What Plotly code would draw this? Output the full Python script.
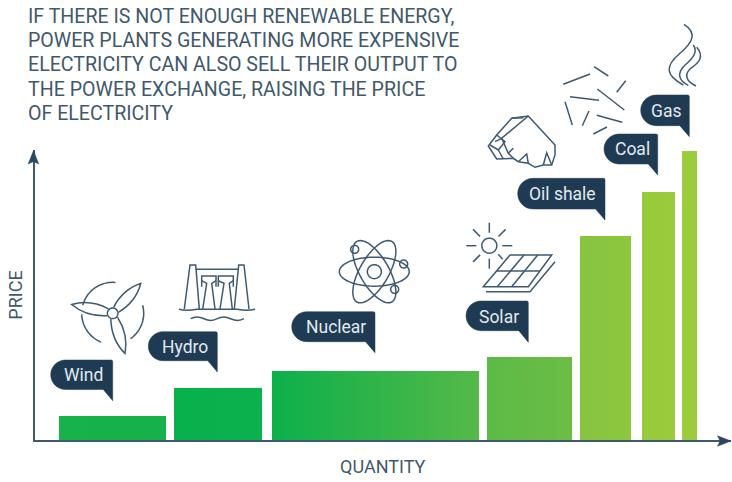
import numpy as np
import plotly.graph_objects as go

sources = ["Wind", "Hydro", "Nuclear", "Solar", "Oil shale", "Coal", "Gas"]
quantity_start = [26, 141, 239, 454, 547, 609, 649]
quantity_width = [106, 87, 206, 84, 50, 32, 14]
price = [25, 53, 70, 84, 205, 249, 290]
color_left = ["#18b14b", "#09b14c", "#0cb04b", "#5cba47", "#86c440", "#96ca3c", "#9ccb3b"]
color_right = ["#16b14b", "#0ab14c", "#54b948", "#6cbd45", "#8ec73e", "#9acb3b", "#9ccb3b"]
callouts = [  # left, right, top, bottom, tip
    (50.7, 112.7, 360, 389.5, 400.7), (148.3, 217.3, 331.7, 360.7, 372),
    (291.7, 375, 311.7, 341.7, 352.7), (466, 528.3, 301, 330.7, 342.3),
    (517.7, 605, 178.3, 209, 220), (604, 657.7, 134, 164, 175), (640.7, 689.3, 95, 125.7, 136.7),
]
callout_text_xy = [(83, 375), (185, 346.5), (336, 326.7), (499.3, 316.5), (562.7, 194), (632.3, 149.3), (666, 110.7)]
INK = "#41596c"
NAVY = "#1f3b54"
ICON = "#3f5a70"
FONT = "Roboto"
headline_lines = ["IF THERE IS NOT ENOUGH RENEWABLE ENERGY,", "POWER PLANTS GENERATING MORE EXPENSIVE",
                  "ELECTRICITY CAN ALSO SELL THEIR OUTPUT TO", "THE POWER EXCHANGE, RAISING THE PRICE",
                  "OF ELECTRICITY"]
headline_y = [16, 40.3, 64.6, 89, 113.3]

W, H = 732, 482
fig = go.Figure()
centers = [s + w / 2 for s, w in zip(quantity_start, quantity_width)]
fig.add_trace(go.Bar(x=centers, y=price, width=quantity_width, hovertext=sources,
                     marker=dict(color=color_right, line=dict(width=0)), showlegend=False))
for s, w, p, c0, c1 in zip(quantity_start, quantity_width, price, color_left, color_right):
    fig.add_trace(go.Scatter(x=[s, s, s + w, s + w, s], y=[0, p, p, 0, 0], mode="lines", fill="toself",
                             line=dict(width=0), hoverinfo="skip", showlegend=False,
                             fillgradient=dict(type="horizontal", colorscale=[[0, c0], [1, c1]])))

shapes = []
def stroke(path, width=1.5, color=ICON, fill=None):
    shapes.append(dict(type="path", path=path, xref="x2", yref="y2", layer="above",
                       line=dict(color=color, width=width), fillcolor=fill or "rgba(0,0,0,0)"))
def zoomed(pts, ox, oy):
    return [(ox + a / 3, oy + b / 3) for a, b in pts]
def poly(pts, close=False):
    return "M" + " L".join(f"{a:.1f},{b:.1f}" for a, b in pts) + (" Z" if close else "")
def ellipse(cx, cy, rx, ry, rot=0, a0=0, a1=360, close=True):
    t = np.radians(np.linspace(a0, a1, 49))
    r = np.radians(rot)
    x = rx * np.cos(t); y = ry * np.sin(t)
    return poly(list(zip(cx + x * np.cos(r) - y * np.sin(r), cy + x * np.sin(r) + y * np.cos(r))), close)
def curve(cmds, ox, oy):
    out = []
    for c, pts in cmds:
        out.append(c + " ".join(f"{ox + a / 3:.1f},{oy + b / 3:.1f}" for a, b in pts))
    return " ".join(out)

# speech bubbles
for l, r, t, b, tip in callouts:
    rad = (b - t) / 2
    k = rad * 0.55
    m = l + rad
    stroke(f"M{m},{t} L{r-1.5},{t} Q{r},{t} {r},{t+1.5} L{r},{tip} L{r-9.5},{b} L{m},{b} "
           f"C{m-k},{b} {l},{b-rad+k} {l},{b-rad} C{l},{t+rad-k} {m-k},{t} {m},{t} Z",
           width=0.5, color=NAVY, fill=NAVY)

# axis arrowheads
stroke("M33.5,150.5 L38.7,164 L33.5,161.5 L28.2,164 Z", width=0.5, fill="#2b4860", color="#2b4860")
stroke("M731,441 L717.5,435.8 L720,441 L717.5,446.2 Z", width=0.5, fill="#2b4860", color="#2b4860")

# wind turbine
hub = (112.7, 313.3)
stroke(ellipse(*hub, 5.3, 5.3))
for tip in [(140.7, 283.5), (71.7, 304.5), (125, 353.5)]:
    dx, dy = tip[0] - hub[0], tip[1] - hub[1]
    n = np.hypot(dx, dy); ux, uy = dx / n, dy / n; px, py = -uy, ux
    b1 = (hub[0] + ux * 5 + px * 3.5, hub[1] + uy * 5 + py * 3.5)
    b2 = (hub[0] + ux * 5 - px * 3.5, hub[1] + uy * 5 - py * 3.5)
    mid = n * 0.6
    c1 = (hub[0] + ux * mid + px * 9, hub[1] + uy * mid + py * 9)
    c2 = (hub[0] + ux * mid - px * 9, hub[1] + uy * mid - py * 9)
    stroke(f"M{b1[0]:.1f},{b1[1]:.1f} Q{c1[0]:.1f},{c1[1]:.1f} {tip[0]},{tip[1]} Q{c2[0]:.1f},{c2[1]:.1f} {b2[0]:.1f},{b2[1]:.1f}")
stroke(ellipse(*hub, 31, 31, 0, 195, 275, False))
stroke(ellipse(*hub, 31, 31, 0, -15, 55, False))
stroke(ellipse(*hub, 31, 31, 0, 112, 178, False))

# dam
for line in [
    [(553, 207), (570, 75), (587, 75), (598, 207)], [(747, 207), (732, 75), (716, 75), (703, 207)],
    [(587, 88), (716, 88)], [(605, 140), (605, 108), (648, 108), (648, 140)],
    [(655, 140), (655, 108), (700, 108), (700, 140)], [(605, 122), (620, 130), (608, 207)],
    [(648, 122), (635, 130), (645, 207)], [(655, 122), (672, 130), (660, 207)],
    [(700, 122), (688, 130), (697, 207)],
]:
    stroke(poly(zoomed(line, 0, 240)))
stroke(curve([("M", [(537, 208)]), ("Q", [(560, 214), (590, 208)]), ("L", [(712, 208)]), ("Q", [(740, 214), (765, 208)])], 0, 240))
stroke(curve([("M", [(572, 236)]), ("Q", [(590, 226), (612, 236)]), ("T", [(652, 236)]), ("T", [(692, 236)]), ("T", [(732, 236)])], 0, 240))

# atom
c = (280 + 283 / 3, 210 + 185 / 3)
stroke(ellipse(*c, 7, 7)); stroke(ellipse(*c, 35, 14.5))
stroke(ellipse(*c, 35, 14.5, 60)); stroke(ellipse(*c, 35, 14.5, -60))
for a, b in [(224, 118), (371, 162), (344, 238)]:
    stroke(ellipse(280 + a / 3, 210 + b / 3, 4, 4))

# solar panel
sun = (280 + 628 / 3, 210 + 107 / 3)
stroke(ellipse(*sun, 7.5, 7.5))
for deg in [0, 45, 90, 135, 180, 225, 270]:
    v = np.radians(deg)
    stroke(poly([(sun[0] + 13 * np.cos(v), sun[1] - 13 * np.sin(v)), (sun[0] + 23 * np.cos(v), sun[1] - 23 * np.sin(v))]))
stroke(poly(zoomed([(655, 133), (668, 148)], 280, 210)))
stroke(poly(zoomed([(690, 135), (815, 135), (745, 230), (610, 230)], 280, 210), True))
for line in [[(650, 183), (780, 183)], [(732, 135), (652, 230)], [(773, 135), (695, 230)]]:
    stroke(poly(zoomed(line, 280, 210)))
stroke(poly(zoomed([(618, 245), (750, 245), (825, 155)], 280, 210)))

# oil shale rock
stroke(poly(zoomed([(145, 318), (225, 405), (225, 435), (215, 465), (190, 465), (165, 472), (145, 460), (115, 455),
                    (100, 445), (50, 447), (25, 408), (50, 375), (95, 325)], 480, 10), True))
for line in [[(145, 318), (65, 385), (85, 430), (100, 445)], [(50, 375), (75, 395), (55, 420), (30, 405)],
             [(55, 420), (70, 447)], [(115, 455), (140, 432), (145, 460)], [(190, 465), (200, 428), (215, 465)],
             [(65, 385), (45, 395)], [(95, 325), (130, 323)], [(85, 430), (100, 415)]]:
    stroke(poly(zoomed(line, 480, 10)))

# coal sticks
for line in [[(250, 223), (330, 192)], [(342, 170), (385, 198)], [(410, 247), (437, 212)], [(352, 237), (433, 300)],
             [(270, 260), (357, 271)], [(255, 275), (277, 345)], [(327, 303), (307, 347)], [(350, 316), (427, 337)],
             [(340, 372), (381, 351)]]:
    stroke(poly(zoomed(line, 480, 10)))

# gas flames
stroke(curve([("M", [(612, 43)]), ("C", [(655, 70), (635, 100), (600, 130)]), ("C", [(555, 168), (555, 195), (610, 225)])], 480, 10))
stroke(curve([("M", [(640, 105)]), ("C", [(655, 125), (640, 145), (615, 165)]), ("C", [(590, 190), (595, 210), (625, 226)])], 480, 10))
stroke(curve([("M", [(650, 112)]), ("C", [(675, 140), (655, 160), (632, 175)]), ("C", [(610, 195), (620, 215), (648, 228)])], 480, 10))

annotations = [dict(x=x, y=y, xref="x2", yref="y2", text=t, showarrow=False,
                    font=dict(family=FONT, size=17.5, color="#e3e9ed"))
               for t, (x, y) in zip(sources, callout_text_xy)]
annotations += [dict(x=25.5, y=y, xref="x2", yref="y2", text=t, showarrow=False, xanchor="left",
                     font=dict(family=FONT, size=19.6, color=INK))
                for t, y in zip(headline_lines, headline_y)]

fig.update_layout(
    width=W, height=H, margin=dict(l=0, r=0, t=0, b=0), paper_bgcolor="white", plot_bgcolor="rgba(0,0,0,0)",
    font=dict(family=FONT, color=INK), bargap=0, showlegend=False,
    xaxis=dict(domain=[34.5 / W, 731 / W], range=[1.5, 698], showgrid=False, zeroline=False, showticklabels=False,
               ticks="", showline=True, linecolor=INK, linewidth=2,
               title=dict(text="QUANTITY", font=dict(size=18, color=INK), standoff=19)),
    yaxis=dict(domain=[(H - 440) / H, (H - 150) / H], range=[1, 291], showgrid=False, zeroline=False,
               showticklabels=False, ticks="", showline=True, linecolor=INK, linewidth=2,
               title=dict(text="PRICE", font=dict(size=18, color=INK), standoff=5)),
    xaxis2=dict(domain=[0, 1], range=[0, W], visible=False, anchor="y2", fixedrange=True),
    yaxis2=dict(domain=[0, 1], range=[H, 0], visible=False, anchor="x2", fixedrange=True),
    shapes=shapes, annotations=annotations,
)
fig.write_html("out.html", config=dict(displayModeBar=False),
               post_script="document.body.style.margin='0';document.body.style.overflow='hidden';")
